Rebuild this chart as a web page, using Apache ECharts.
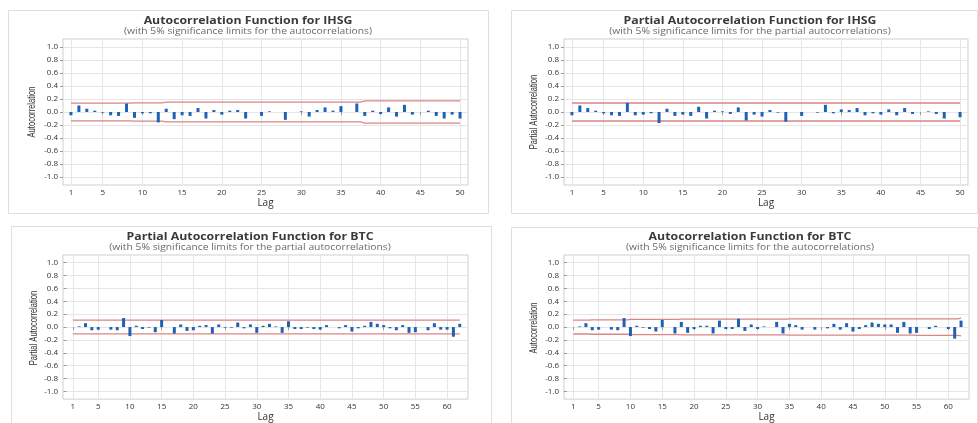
<!DOCTYPE html>
<html><head><meta charset="utf-8">
<script src="https://cdn.jsdelivr.net/npm/echarts@6/dist/echarts.min.js"></script>
<style>html,body{margin:0;padding:0;background:#fff}#c{width:978px;height:423px}</style>
</head><body><div id="c"></div>
<script>
// ---------- data ----------
const ihsgAcf = [-0.05,0.10,0.05,0.02,-0.01,-0.05,-0.06,0.13,-0.09,-0.02,
  -0.02,-0.16,0.05,-0.11,-0.05,-0.06,0.06,-0.10,0.03,-0.04,
  0.02,0.03,-0.10,0.00,-0.06,0.01,0.00,-0.12,0.00,0.01,
  -0.07,0.03,0.07,0.02,0.09,0.00,0.13,-0.06,0.02,-0.03,
  0.07,-0.07,0.11,-0.04,0.00,0.02,-0.06,-0.10,-0.04,-0.10];
const ihsgAcfLimit = [0.137,0.137,0.137,0.137,0.137,0.137,0.137,0.137,0.141,0.141,
  0.141,0.141,0.153,0.153,0.153,0.153,0.153,0.153,0.153,0.153,
  0.153,0.153,0.153,0.153,0.153,0.153,0.153,0.153,0.153,0.153,
  0.153,0.153,0.153,0.153,0.153,0.153,0.153,0.170,0.170,0.170,
  0.170,0.170,0.170,0.170,0.170,0.170,0.170,0.170,0.170,0.170];
const ihsgPacf = [-0.05,0.10,0.06,0.02,-0.02,-0.05,-0.06,0.14,-0.05,-0.04,
  -0.02,-0.17,0.05,-0.06,-0.04,-0.06,0.08,-0.10,0.02,0.01,
  -0.03,0.07,-0.13,-0.04,-0.07,0.03,-0.01,-0.15,0.00,-0.06,
  0.00,-0.01,0.11,-0.02,0.04,0.03,0.06,-0.05,-0.02,-0.04,
  0.04,-0.05,0.06,-0.03,0.00,0.01,-0.03,-0.10,0.00,-0.08];
const ihsgPacfLimit = 0.138;
const btcPacf = [0.00,0.01,0.06,-0.05,-0.04,0.00,-0.04,-0.05,0.14,-0.14,
  0.02,-0.03,-0.01,-0.08,0.11,0.00,-0.10,0.04,-0.06,-0.05,
  0.02,0.03,-0.10,0.04,-0.01,-0.01,0.07,-0.02,0.04,-0.09,
  0.02,0.05,0.01,-0.09,0.09,-0.03,-0.03,-0.01,-0.03,-0.04,
  0.03,0.00,-0.02,0.03,-0.07,-0.02,0.02,0.08,0.05,0.03,
  -0.02,-0.05,0.03,-0.09,-0.08,0.00,-0.05,0.06,-0.04,-0.04,
  -0.15,0.05];
const btcPacfLimit = 0.107;
const btcAcf = [0.00,0.01,0.06,-0.05,-0.04,0.00,-0.04,-0.05,0.14,-0.14,
  0.02,-0.01,-0.03,-0.07,0.11,0.00,-0.10,0.08,-0.09,-0.03,
  0.02,0.02,-0.10,0.10,-0.03,-0.03,0.13,-0.06,0.04,-0.03,
  0.01,0.00,0.08,-0.10,0.05,0.03,-0.04,0.00,-0.04,0.00,
  -0.02,0.05,-0.04,0.06,-0.07,-0.03,0.03,0.07,0.05,0.04,
  0.04,-0.09,0.08,-0.10,-0.09,0.00,-0.03,0.02,0.00,-0.03,
  -0.18,0.10];
const btcAcfLimit = [0.108,0.108,0.108,0.112,0.112,0.112,0.112,0.112,0.112,0.118,
  0.118,0.118,0.118,0.118,0.118,0.118,0.118,0.122,0.122,0.122,
  0.122,0.122,0.122,0.122,0.122,0.122,0.122,0.122,0.122,0.122,
  0.122,0.122,0.122,0.122,0.126,0.126,0.126,0.126,0.126,0.126,
  0.126,0.126,0.126,0.126,0.126,0.126,0.126,0.126,0.126,0.126,
  0.126,0.126,0.126,0.126,0.128,0.128,0.128,0.128,0.128,0.128,
  0.128,0.138];
const yTicks = [-1.0,-0.8,-0.6,-0.4,-0.2,0.0,0.2,0.4,0.6,0.8,1.0];
const ihsgXTicks = [1,5,10,15,20,25,30,35,40,45,50];
const btcXTicks = [1,5,10,15,20,25,30,35,40,45,50,55,60];

// ---------- layout ----------
const panels = [
  {title:'Autocorrelation Function for IHSG', sub:'(with 5% significance limits for the autocorrelations)',
   yName:'Autocorrelation', values:ihsgAcf, limits:ihsgAcfLimit, xTicks:ihsgXTicks, xMin:0, xMax:51,
   box:[8,10,480,203], grid:[63,39,405,146], tx:248, ty:21, nx:32, ny:112},
  {title:'Partial Autocorrelation Function for IHSG', sub:'(with 5% significance limits for the partial autocorrelations)',
   yName:'Partial Autocorrelation', values:ihsgPacf, limits:ihsgPacfLimit, xTicks:ihsgXTicks, xMin:0, xMax:51,
   box:[511,10,466,203], grid:[564,39,404,146], tx:750, ty:21, nx:534, ny:112},
  {title:'Partial Autocorrelation Function for BTC', sub:'(with 5% significance limits for the partial autocorrelations)',
   yName:'Partial Autocorrelation', values:btcPacf, limits:btcPacfLimit, xTicks:btcXTicks, xMin:-0.55, xMax:63.3,
   box:[11,226,480,205], grid:[63,255,405,146], tx:250, ty:237, nx:34, ny:328},
  {title:'Autocorrelation Function for BTC', sub:'(with 5% significance limits for the autocorrelations)',
   yName:'Autocorrelation', values:btcAcf, limits:btcAcfLimit, xTicks:btcXTicks, xMin:-0.45, xMax:63.25,
   box:[511,227,466,205], grid:[564,255,405,146], tx:750, ty:237, nx:534, ny:328}
];

const FONT = 'Open Sans';
const grids = [], xAxes = [], yAxes = [], series = [], graphics = [];
panels.forEach((p, i) => {
  graphics.push({type:'rect', shape:{x:p.box[0]+0.5, y:p.box[1]+0.5, width:p.box[2], height:p.box[3]},
    style:{fill:'none', stroke:'#dedede', lineWidth:1}, z:-1});
  graphics.push({type:'text', x:p.tx, y:p.ty, scaleX:1.1, style:{text:p.title, fontFamily:FONT, fontWeight:'bold', fontSize:11.2,
    fill:'#3a3a3a', textAlign:'center', textVerticalAlign:'middle'}});
  graphics.push({type:'text', x:p.tx, y:p.ty+10.5, scaleX:1.2, style:{text:p.sub, fontFamily:FONT, fontSize:8.6,
    fill:'#6a6a6a', textAlign:'center', textVerticalAlign:'middle'}});
  graphics.push({type:'text', x:p.nx, y:p.ny, rotation:Math.PI/2, scaleX:0.72, style:{text:p.yName,
    fontFamily:'Liberation Sans', fontSize:10.5, fill:'#333', textAlign:'center', textVerticalAlign:'middle'}});
  grids.push({left:p.grid[0], top:p.grid[1], width:p.grid[2], height:p.grid[3], show:true,
    borderColor:'#cfcfcf', borderWidth:1, containLabel:false});
  xAxes.push({type:'value', gridIndex:i, min:p.xMin, max:p.xMax,
    name:'Lag', nameLocation:'middle', nameGap:11,
    nameTextStyle:{fontFamily:FONT, fontSize:10, color:'#333'},
    axisLine:{show:false},
    axisTick:{show:true, length:3, customValues:p.xTicks, lineStyle:{color:'#999'}},
    axisLabel:{customValues:p.xTicks, fontFamily:FONT, fontSize:8, color:'#333', margin:4},
    splitLine:{show:false}});
  yAxes.push({type:'value', gridIndex:i, min:-1.12, max:1.12,
    axisLine:{show:false},
    axisTick:{show:true, length:3, customValues:yTicks, lineStyle:{color:'#999'}},
    axisLabel:{customValues:yTicks, formatter:v=>v.toFixed(1), fontFamily:FONT, fontSize:8, color:'#333', margin:5},
    splitLine:{show:false}});
  // grid lines (drawn beneath the bars)
  series.push({type:'line', xAxisIndex:i, yAxisIndex:i, data:[], silent:true, z:0,
    markLine:{silent:true, z:0, symbol:'none', animation:false, label:{show:false},
      lineStyle:{color:'#e6e6e6', width:1, type:'solid'},
      data: yTicks.map(v=>({yAxis:v})).concat(p.xTicks.map(v=>({xAxis:v})))}});
  // bars
  series.push({type:'bar', xAxisIndex:i, yAxisIndex:i, barWidth:3, z:6,
    itemStyle:{color:'#1f62b3'}, animation:false,
    data:p.values.map((v,k)=>[k+1, v])});
  // significance limits
  const n = p.values.length;
  let up, lo;
  if (Array.isArray(p.limits)) {
    up = p.limits.map((v,k)=>[k+1, v]);
    lo = p.limits.map((v,k)=>[k+1, -v]);
  } else {
    up = [[1, p.limits],[n, p.limits]];
    lo = [[1, -p.limits],[n, -p.limits]];
  }
  [up, lo].forEach(d => series.push({type:'line', xAxisIndex:i, yAxisIndex:i, data:d, step:'middle',
    symbol:'none', z:5, animation:false, lineStyle:{color:'#dc8585', width:1.3}}));
});

const chart = echarts.init(document.getElementById('c'), null, {renderer:'canvas'});
chart.setOption({animation:false, backgroundColor:'#fff', grid:grids, xAxis:xAxes, yAxis:yAxes, series:series, graphic:graphics});
</script>
</body></html>
